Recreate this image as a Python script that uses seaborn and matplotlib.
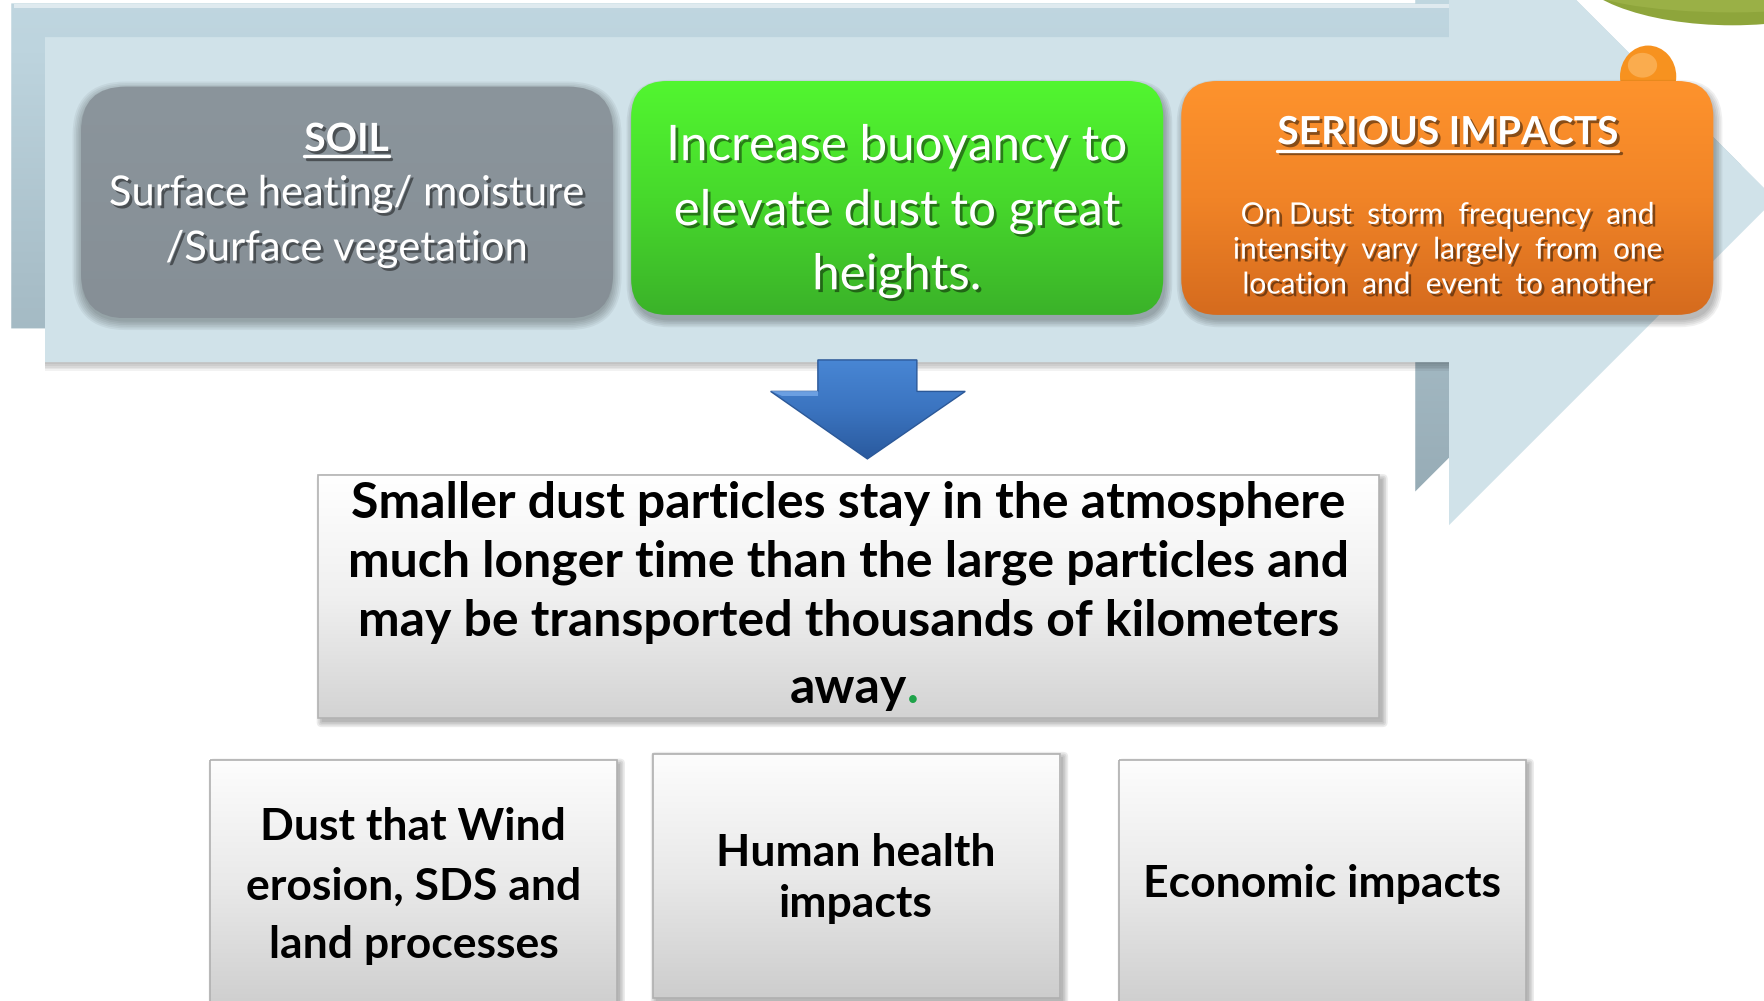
import numpy as np
import matplotlib
matplotlib.use("Agg")
import matplotlib.pyplot as plt
import matplotlib.patheffects as pe
from matplotlib.patches import FancyBboxPatch, Polygon, Rectangle, Ellipse
import seaborn as sns

# texts of the diagram
soil_title = "SOIL"
soil_lines = ["Surface heating/ moisture", "/Surface vegetation"]
buoy_lines = ["Increase buoyancy to", "elevate dust to great", "heights."]
impact_title = "SERIOUS IMPACTS"
impact_lines = ["On Dust  storm  frequency  and",
                "intensity  vary  largely  from  one",
                "location  and  event  to another"]
middle_lines = ["Smaller dust particles stay in the atmosphere",
                "much longer time than the large particles and",
                "may be transported thousands of kilometers",
                "away"]
bottom_labels = [["Dust that Wind", "erosion, SDS and", "land processes"],
                 ["Human health", "impacts"],
                 ["Economic impacts"]]

sns.set_style("white")
plt.rcParams['font.family'] = ['Lato', 'DejaVu Sans']

W, H = 1568, 890
fig = plt.figure(figsize=(17.64, 10.01), dpi=100)
ax = fig.add_axes([0, 0, 1, 1])


def grad_fill(patch, x0, x1, y0, y1, colors, horizontal=False, z=2):
    patch.set_facecolor("none")
    patch.set_edgecolor("none")
    patch.set_zorder(z)
    ax.add_patch(patch)
    cmap = sns.blend_palette(colors, 256, as_cmap=True)
    g = np.linspace(0, 1, 256)
    arr = g[None, :] if horizontal else g[:, None]
    im = ax.imshow(arr, cmap=cmap, extent=(x0, x1, y1, y0), origin="upper",
                   aspect="auto", zorder=z, interpolation="bicubic")
    im.set_clip_path(patch)


def rbox(x0, y0, x1, y1, r):
    return FancyBboxPatch((x0, y0), x1 - x0, y1 - y0,
                          boxstyle=f"round,pad=0,rounding_size={r}")


def soft_shadow(x0, y0, x1, y1, r, dx, dy, z, n=6, a=0.05):
    for i in range(n):
        e = i * 1.5
        ax.add_patch(FancyBboxPatch((x0 + dx - e, y0 + dy - e), x1 - x0 + 2 * e, y1 - y0 + 2 * e,
                                    boxstyle=f"round,pad=0,rounding_size={r + e}",
                                    fc="black", ec="none", alpha=a, zorder=z))


shadow_fx = [pe.withSimplePatchShadow(offset=(2, -2), shadow_rgbFace="black", alpha=0.45)]

# decorations behind the big arrow (pieces of other slide elements)
ax.add_patch(Ellipse((1540, -35), 290, 115, fc="#8ea53b", ec="none", zorder=0))
ax.add_patch(Ellipse((1540, -14), 270, 50, fc="#a3b84f", ec="none", alpha=0.6, zorder=0))

# big arrow: back and front
front = [(40, 33), (1288, 33), (1288, -113), (1578, 177), (1288, 467), (1288, 322), (40, 322)]
back = [(x - 30, y - 30) for x, y in front]
grad_fill(Polygon(back, closed=True), 0, 1560, -150, 440,
          ["#c8dde6", "#bdd4de", "#a9bfc9", "#97acb6"], z=1)
ax.add_patch(Rectangle((12, 4), 1380, 3, fc="white", ec="none", alpha=0.5, zorder=1.5))
for i in range(5):
    ax.add_patch(Rectangle((40, 322), 1248, 2 + i * 1.5, fc="black", ec="none", alpha=0.05, zorder=1.8))
ax.add_patch(Polygon(front, closed=True, fc="#d0e2e9", ec="none", zorder=2))

# orange bump peeking above the orange box
ax.add_patch(Ellipse((1465, 68), 50, 55, fc="#f7921f", ec="none", zorder=2.5))
ax.add_patch(Ellipse((1460, 58), 26, 22, fc="#fbb35a", ec="none", alpha=0.8, zorder=2.6))

# three boxes on the arrow
soft_shadow(72, 77, 545, 283, 40, 0, 3, 2.8, n=6, a=0.05)
grad_fill(rbox(72, 77, 545, 283, 40), 72, 545, 77, 283, ["#8b959c", "#868f96"], z=3)
soft_shadow(561, 72, 1034, 280, 32, 2, 5, 2.8, n=5, a=0.06)
grad_fill(rbox(561, 72, 1034, 280, 32), 561, 1034, 72, 280, ["#52f630", "#47d92c", "#3bb229"], z=3)
soft_shadow(1050, 72, 1523, 280, 32, 2, 5, 2.8, n=5, a=0.06)
grad_fill(rbox(1050, 72, 1523, 280, 32), 1050, 1523, 72, 280, ["#fe932d", "#f18427", "#d56b1e"], z=3)

# blue down arrow
blue = [(727, 320), (815, 320), (815, 348), (858, 348), (771, 408), (685, 348), (727, 348)]
grad_fill(Polygon(blue, closed=True), 685, 858, 320, 408, ["#4886d4", "#3b74c0", "#2a5a9e"], z=3)
ax.add_patch(Polygon(blue, closed=True, fc="none", ec="#2b5898", lw=1, zorder=3.1))
ax.add_patch(Polygon([(685, 348), (727, 348), (727, 352), (695, 352)], closed=True,
                     fc="#7fb0ee", ec="none", alpha=0.7, zorder=3.2))

# middle box
soft_shadow(283, 422, 1226, 638, 0, 3, 4, 2.8, n=4, a=0.08)
grad_fill(Rectangle((283, 422), 943, 216), 283, 1226, 422, 638, ["#ffffff", "#f0f0f0", "#d3d3d3"], z=3)
ax.add_patch(Rectangle((283, 422), 943, 216, fc="none", ec="#b3b3b3", lw=1.2, zorder=3.1))

# bottom boxes
bottom_boxes = [(187, 676, 548, 900), (580, 670, 942, 887), (995, 676, 1356, 900)]
for x0, y0, x1, y1 in bottom_boxes:
    soft_shadow(x0, y0, x1, y1, 0, 3, 3, 2.8, n=4, a=0.08)
    grad_fill(Rectangle((x0, y0), x1 - x0, y1 - y0), x0, x1, y0, y1,
              ["#fdfdfd", "#e9e9e9", "#cdcdcd"], z=3)
    ax.add_patch(Rectangle((x0, y0), x1 - x0, y1 - y0, fc="none", ec="#b0b0b0", lw=1.2, zorder=3.1))

# texts
t_soil = ax.text(308, 124, soil_title, ha="center", va="center", color="white",
                 fontsize=28, fontweight="bold", zorder=5, path_effects=shadow_fx)
for y, s in zip([172, 221], soil_lines):
    ax.text(308, y, s, ha="center", va="center", color="white", fontsize=30,
            zorder=5, path_effects=shadow_fx)
for y, s in zip([130, 188, 245], buoy_lines):
    ax.text(797, y, s, ha="center", va="center", color="white", fontsize=35.5,
            zorder=5, path_effects=shadow_fx)
t_imp = ax.text(1287, 118, impact_title, ha="center", va="center", color="white",
                fontsize=28, fontweight="bold", zorder=5, path_effects=shadow_fx)
for y, s in zip([191, 222, 253], impact_lines):
    ax.text(1287, y, s, ha="center", va="center", color="white", fontsize=21.5,
            zorder=5, path_effects=shadow_fx)

mid_texts = []
for y, s in zip([448, 500, 553, 612], middle_lines):
    mid_texts.append(ax.text(754, y, s, ha="center", va="center", color="black",
                             fontsize=36, fontweight="bold", zorder=5))

for (x0, y0, x1, y1), lines in zip(bottom_boxes, bottom_labels):
    cx = (x0 + x1) / 2
    if len(lines) == 3:
        ys = [735, 788, 840]
    elif len(lines) == 2:
        ys = [758, 804]
    else:
        ys = [786]
    for y, s in zip(ys, lines):
        ax.text(cx, y, s, ha="center", va="center", color="black",
                fontsize=32, fontweight="bold", zorder=5)

ax.set_xlim(0, W)
ax.set_ylim(H, 0)
ax.axis("off")

# underlines and the green full stop, placed from the drawn text extents
fig.canvas.draw()
r = fig.canvas.get_renderer()
inv = ax.transData.inverted()
for t, uy in [(t_soil, 139), (t_imp, 134)]:
    bb = t.get_window_extent(r)
    (xa, _), (xb, _) = inv.transform([(bb.x0, bb.y0), (bb.x1, bb.y0)])
    ax.plot([xa, xb], [uy, uy], color="white", lw=2.4, zorder=5,
            path_effects=[pe.SimpleLineShadow(offset=(2, -2), alpha=0.45), pe.Normal()])
bb = mid_texts[-1].get_window_extent(r)
xe, _ = inv.transform((bb.x1, bb.y0))
ax.text(xe, 612, ".", ha="left", va="center", color="#1fa34a", fontsize=36,
        fontweight="bold", zorder=5)

fig.savefig("out.png", dpi=100)
